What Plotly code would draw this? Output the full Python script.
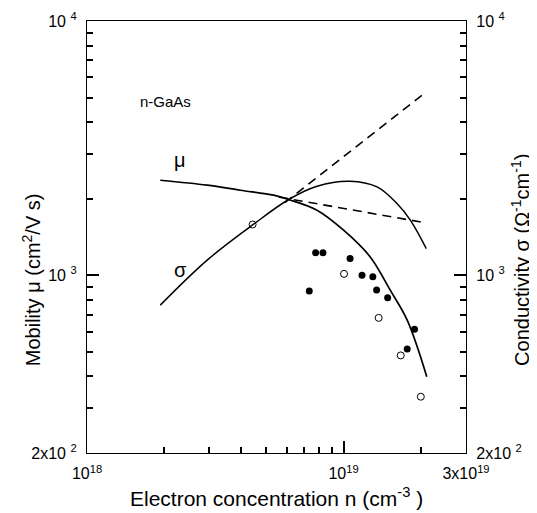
import numpy as np
import plotly.graph_objects as go

# ---- data ----
mu_n = [1.93e18, 2.94e18, 3.96e18, 5.34e18, 6.11e18, 7.88e18, 1.0e19,
        1.27e19, 1.52e19, 1.77e19, 2.11e19]
mu_v = [2364, 2261, 2160, 2065, 1986, 1803, 1504, 1181, 874, 666, 399]

sig_n = [1.93e18, 2.94e18, 4.46e18, 6.11e18, 7.88e18, 1.06e19, 1.35e19, 1.615e19,
         1.82e19, 2.10e19]
sig_v = [763, 1147, 1588, 1986, 2240, 2344, 2226, 1915, 1647, 1274]

mu_dash_n = [5.6e18, 2.10e19]
mu_dash_v = [2030, 1607]
sig_dash_n = [5.9e18, 2.10e19]
sig_dash_v = [1930, 5260]

filled_n = [7.35e18, 7.78e18, 8.31e18, 1.06e19, 1.18e19, 1.30e19, 1.345e19, 1.485e19, 1.89e19, 1.77e19]
filled_v = [868, 1225, 1225, 1164, 1000, 986, 876, 815, 614, 513]

open_n = [4.42e18, 1.004e19, 1.37e19, 1.67e19, 2.00e19]
open_v = [1584, 1013, 680, 484, 333]

x_ticks = [1e18, 1e19, 3e19]
x_ticktext = ["10<sup>18</sup>", "10<sup>19</sup>", "3x10<sup>19</sup>"]
x_minor = [2e18, 3e18, 4e18, 5e18, 6e18, 7e18, 8e18, 9e18, 2e19]
y_ticks = [200, 1000, 10000]
y_ticktext = ["2x10 <sup>2</sup>", "10 <sup>3</sup>", "10 <sup>4</sup>"]
y_minor = [300, 400, 500, 600, 700, 800, 900, 2000, 3000, 4000, 5000, 6000, 7000, 8000, 9000]

FONT = "Liberation Sans, Arial, Helvetica, sans-serif"
fig = go.Figure()

fig.add_trace(go.Scatter(x=mu_n, y=mu_v, mode="lines", line=dict(color="black", width=1.7, shape="spline"),
                         hoverinfo="skip", showlegend=False))
fig.add_trace(go.Scatter(x=mu_dash_n, y=mu_dash_v, mode="lines",
                         line=dict(color="black", width=1.6, dash="9px,6px"),
                         hoverinfo="skip", showlegend=False))
fig.add_trace(go.Scatter(x=sig_n, y=sig_v, mode="lines", yaxis="y2",
                         line=dict(color="black", width=1.5, shape="spline"),
                         hoverinfo="skip", showlegend=False))
fig.add_trace(go.Scatter(x=sig_dash_n, y=sig_dash_v, mode="lines", yaxis="y2",
                         line=dict(color="black", width=1.6, dash="9px,6px"),
                         hoverinfo="skip", showlegend=False))
fig.add_trace(go.Scatter(x=filled_n, y=filled_v, mode="markers",
                         marker=dict(color="black", size=7, symbol="circle"),
                         hoverinfo="skip", showlegend=False))
fig.add_trace(go.Scatter(x=open_n, y=open_v, mode="markers",
                         marker=dict(color="white", size=7, symbol="circle",
                                     line=dict(color="black", width=1)),
                         hoverinfo="skip", showlegend=False))

xrange = [18, np.log10(3e19)]
yrange = [np.log10(200), 4]
axis = dict(showgrid=False, zeroline=False, automargin=False, ticks="inside", ticklen=12,
            tickcolor="black", tickwidth=1.5, showline=True, linecolor="black", linewidth=1.3,
            tickmode="array", ticklabelstandoff=6,
            tickfont=dict(family=FONT, size=16, color="black"))
minor = dict(tickmode="array", ticks="inside", ticklen=6, tickcolor="black", tickwidth=1.5,
             showgrid=False)

fig.update_layout(
    template="none",
    width=529, height=505,
    margin=dict(l=79, r=71, t=13, b=60, autoexpand=False),
    paper_bgcolor="white", plot_bgcolor="white",
    font=dict(family=FONT, color="black"),
    xaxis=dict(axis, type="log", range=xrange, tickvals=x_ticks, ticktext=x_ticktext, mirror=True,
               minor=dict(minor, tickvals=x_minor)),
    yaxis=dict(axis, type="log", range=yrange, tickvals=y_ticks, ticktext=y_ticktext, side="left",
               minor=dict(minor, tickvals=y_minor)),
    yaxis2=dict(axis, type="log", range=yrange, tickvals=y_ticks, ticktext=y_ticktext,
                overlaying="y", side="right", anchor="x",
                minor=dict(minor, tickvals=y_minor)),
    annotations=[
        dict(text="Electron concentration n (cm<sup>-3</sup> )", x=0.5, y=0, xref="paper", yref="paper",
             yshift=-44, showarrow=False, yanchor="middle",
             font=dict(family=FONT, size=21)),
        dict(text="Mobility μ (cm<sup>2</sup>/V s)", x=0, y=0.40, xref="paper", yref="paper",
             xshift=-56, showarrow=False, textangle=-90, xanchor="center", yanchor="middle",
             font=dict(family=FONT, size=20)),
        dict(text="Conductivity σ (Ω<sup>-1</sup>cm<sup>-1</sup>)", x=1, y=0.447, xref="paper", yref="paper",
             xshift=55, showarrow=False, textangle=-90, xanchor="center", yanchor="middle",
             font=dict(family=FONT, size=20)),
        dict(text="n-GaAs", x=np.log10(1.585e18), y=np.log10(4832), xref="x", yref="y",
             showarrow=False, xanchor="left", font=dict(family=FONT, size=15)),
        dict(text="μ", x=np.log10(2.31e18), y=np.log10(2834), xref="x", yref="y",
             showarrow=False, font=dict(family=FONT, size=20)),
        dict(text="σ", x=np.log10(2.31e18), y=np.log10(1047), xref="x", yref="y",
             showarrow=False, font=dict(family=FONT, size=20)),
    ],
)

fig.write_html("out.html")
